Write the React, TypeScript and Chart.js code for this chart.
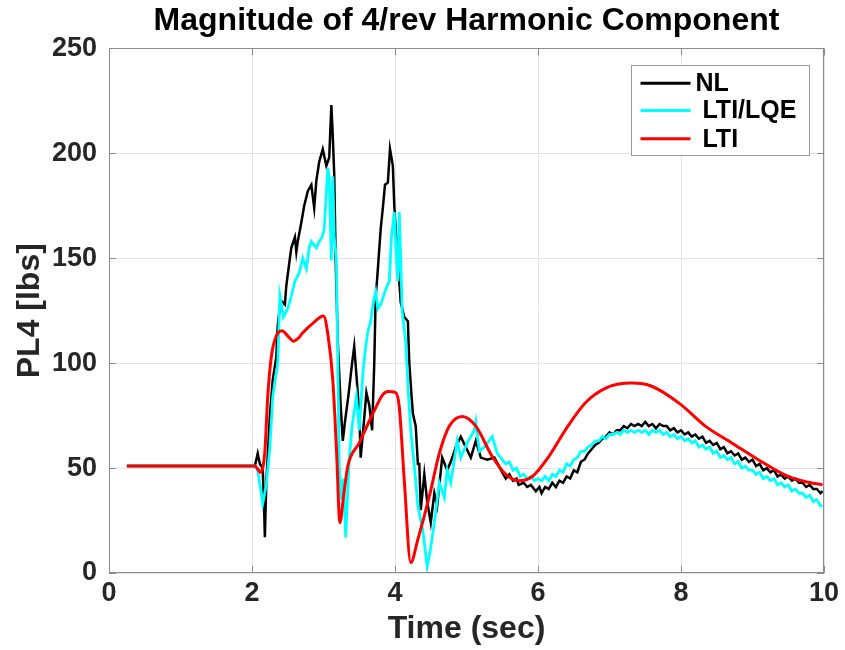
import { useEffect, useRef } from "react";
import { Chart, registerables } from "chart.js";

Chart.register(...registerables);

const chartTitle = "Magnitude of 4/rev Harmonic Component";
const xAxisTitle = "Time (sec)";
const yAxisTitle = "PL4 [lbs]";
const seriesLabels = ["NL", " LTI/LQE", " LTI"];
const seriesColors = ["#000000", "#00ffff", "#ff0000"];
const xTickValues = [0, 2, 4, 6, 8, 10];
const yTickValues = [0, 50, 100, 150, 200, 250];

// [time (sec), PL4 (lbs)]
const nlPoints: number[][] = [
  [0.25, 51], [2.04, 51], [2.08, 57], [2.11, 52], [2.15, 50], [2.17, 30], [2.18, 17], [2.2, 43],
  [2.25, 75], [2.29, 92], [2.34, 103], [2.36, 118], [2.4, 130], [2.46, 128], [2.48, 137], [2.53, 150],
  [2.55, 155], [2.6, 160], [2.62, 153], [2.64, 158], [2.69, 167], [2.73, 175], [2.78, 182], [2.83, 185],
  [2.87, 174], [2.9, 187], [2.94, 196], [2.99, 202], [3.04, 194], [3.08, 198], [3.11, 223], [3.13, 208],
  [3.15, 190], [3.17, 150], [3.2, 110], [3.24, 80], [3.27, 63], [3.3, 72], [3.35, 85], [3.4, 100],
  [3.43, 108], [3.47, 90], [3.5, 76], [3.52, 55], [3.56, 70], [3.6, 86], [3.64, 80], [3.68, 68],
  [3.71, 100], [3.73, 132], [3.75, 140], [3.8, 164], [3.83, 174], [3.86, 185], [3.9, 186], [3.93, 202],
  [3.97, 194], [3.99, 175], [4.04, 148], [4.08, 129], [4.13, 122], [4.18, 120], [4.2, 100], [4.23, 85],
  [4.25, 76], [4.29, 70], [4.32, 52], [4.34, 52], [4.36, 30], [4.41, 47], [4.45, 34], [4.5, 24],
  [4.55, 38], [4.59, 32], [4.66, 55], [4.73, 49], [4.78, 53], [4.85, 60], [4.92, 65], [4.99, 60],
  [5.06, 55], [5.13, 63], [5.2, 55], [5.29, 54], [5.39, 55], [5.5, 48], [5.55, 45], [5.6, 47],
  [5.65, 44], [5.7, 45], [5.73, 42], [5.8, 43], [5.85, 41], [5.9, 42], [5.97, 39], [6.02, 41],
  [6.05, 38], [6.1, 41], [6.15, 40], [6.2, 43], [6.25, 41], [6.3, 44], [6.35, 43], [6.4, 46],
  [6.45, 45], [6.5, 49], [6.55, 48], [6.6, 53], [6.65, 54], [6.7, 57], [6.75, 59], [6.8, 61],
  [6.85, 62], [6.9, 64], [6.95, 65], [7.0, 67], [7.05, 66], [7.1, 68], [7.15, 68], [7.2, 70],
  [7.25, 69], [7.3, 71], [7.35, 70], [7.4, 71], [7.45, 70], [7.5, 72], [7.55, 70], [7.6, 71],
  [7.65, 69], [7.7, 71], [7.75, 70], [7.8, 70], [7.85, 68], [7.9, 69], [7.95, 67], [8.0, 68],
  [8.05, 66], [8.1, 67], [8.15, 65], [8.2, 66], [8.25, 64], [8.3, 65], [8.35, 62], [8.4, 63],
  [8.45, 61], [8.5, 62], [8.55, 59], [8.6, 60], [8.65, 57], [8.7, 58], [8.75, 56], [8.8, 57],
  [8.85, 54], [8.9, 55], [8.95, 53], [9.0, 54], [9.05, 51], [9.1, 52], [9.15, 49], [9.2, 50],
  [9.25, 48], [9.3, 49], [9.35, 46], [9.4, 47], [9.45, 45], [9.5, 46], [9.55, 44], [9.6, 45],
  [9.65, 43], [9.7, 43], [9.75, 41], [9.8, 42], [9.85, 40], [9.9, 40], [9.95, 38], [9.98, 39],
];

const lqePoints: number[][] = [
  [0.25, 51], [2.04, 51], [2.08, 49], [2.12, 40], [2.15, 33], [2.2, 42], [2.25, 60], [2.29, 84],
  [2.36, 100], [2.39, 132], [2.44, 122], [2.5, 126], [2.55, 132], [2.6, 139], [2.66, 143], [2.71, 150],
  [2.76, 145], [2.8, 155], [2.83, 158], [2.9, 155], [2.94, 158], [2.98, 160], [3.01, 164], [3.06, 193],
  [3.08, 188], [3.11, 149], [3.13, 189], [3.15, 160], [3.18, 150], [3.2, 100], [3.22, 50], [3.25, 35],
  [3.28, 45], [3.31, 17], [3.34, 40], [3.36, 55], [3.4, 70], [3.46, 84], [3.5, 68], [3.55, 95],
  [3.58, 105], [3.62, 115], [3.66, 120], [3.7, 130], [3.73, 134], [3.76, 126], [3.8, 128], [3.83, 131],
  [3.88, 136], [3.92, 139], [3.95, 160], [3.99, 172], [4.02, 150], [4.04, 139], [4.06, 172], [4.08, 150],
  [4.1, 125], [4.15, 110], [4.18, 90], [4.22, 68], [4.25, 58], [4.3, 40], [4.32, 32], [4.36, 25],
  [4.39, 20], [4.45, 3], [4.5, 12], [4.55, 24], [4.62, 43], [4.69, 36], [4.73, 49], [4.78, 43],
  [4.87, 63], [4.92, 55], [5.01, 62], [5.11, 68], [5.13, 72], [5.18, 58], [5.25, 60], [5.36, 65],
  [5.43, 57], [5.5, 54], [5.55, 52], [5.6, 53], [5.65, 49], [5.7, 50], [5.75, 46], [5.8, 47],
  [5.85, 45], [5.9, 46], [5.95, 44], [6.0, 45], [6.05, 44], [6.1, 46], [6.15, 44], [6.2, 47],
  [6.25, 46], [6.3, 49], [6.35, 48], [6.4, 52], [6.45, 51], [6.5, 54], [6.55, 55], [6.6, 58],
  [6.65, 58], [6.7, 60], [6.75, 61], [6.8, 63], [6.85, 63], [6.9, 65], [6.95, 64], [7.0, 66],
  [7.05, 66], [7.1, 67], [7.15, 66], [7.2, 68], [7.25, 67], [7.3, 68], [7.35, 67], [7.4, 68],
  [7.45, 67], [7.5, 68], [7.55, 66], [7.6, 68], [7.65, 67], [7.7, 68], [7.75, 66], [7.8, 67],
  [7.85, 65], [7.9, 66], [7.95, 64], [8.0, 65], [8.05, 63], [8.1, 64], [8.15, 62], [8.2, 63],
  [8.25, 60], [8.3, 61], [8.35, 59], [8.4, 60], [8.45, 57], [8.5, 58], [8.55, 55], [8.6, 56],
  [8.65, 54], [8.7, 55], [8.75, 52], [8.8, 53], [8.85, 50], [8.9, 51], [8.95, 49], [9.0, 49],
  [9.05, 47], [9.1, 48], [9.15, 45], [9.2, 46], [9.25, 44], [9.3, 45], [9.35, 42], [9.4, 43],
  [9.45, 41], [9.5, 42], [9.55, 39], [9.6, 40], [9.65, 38], [9.7, 38], [9.75, 36], [9.8, 37],
  [9.85, 34], [9.9, 35], [9.95, 32], [9.98, 32],
];

const ltiPoints: number[][] = [
  [0.25, 51], [2.04, 51], [2.12, 48], [2.18, 58], [2.22, 84], [2.27, 103], [2.34, 113], [2.42, 115.5],
  [2.5, 113], [2.58, 110.5], [2.65, 112], [2.71, 114.5], [2.85, 119], [3.0, 122.5], [3.06, 114],
  [3.13, 92], [3.18, 60], [3.23, 24], [3.28, 36.5], [3.34, 51], [3.5, 62], [3.69, 76], [3.83, 85],
  [3.9, 86.5], [4.01, 86], [4.06, 79], [4.13, 44], [4.22, 5], [4.32, 16], [4.48, 36.5], [4.62, 57],
  [4.76, 70], [4.94, 74.6], [5.13, 70], [5.36, 55.5], [5.55, 47], [5.73, 44], [5.92, 46], [6.15, 55.5],
  [6.38, 68], [6.66, 81], [6.94, 88], [7.31, 90.5], [7.59, 89], [7.99, 80.5], [8.34, 70], [8.71, 62],
  [9.08, 54], [9.45, 46.8], [9.73, 43.6], [9.98, 42],
];

const FONT = "'Liberation Sans', Arial, Helvetica, sans-serif";
const TEXT = "#262626";

const framePlugin = {
  id: "frame",
  afterDatasetsDraw(chart: any) {
    const { ctx, chartArea: a, scales } = chart;
    ctx.save();
    ctx.strokeStyle = "#8c8c8c";
    ctx.lineWidth = 1;
    ctx.strokeRect(Math.round(a.left) + 0.5, Math.round(a.top) + 0.5, Math.round(a.right - a.left) - 1, Math.round(a.bottom - a.top) - 1);
    const tl = 7;
    ctx.beginPath();
    for (const v of xTickValues) {
      const px = Math.round(scales.x.getPixelForValue(v)) + 0.5;
      ctx.moveTo(px, a.bottom);
      ctx.lineTo(px, a.bottom - tl);
      ctx.moveTo(px, a.top);
      ctx.lineTo(px, a.top + tl);
    }
    for (const v of yTickValues) {
      const py = Math.round(scales.y.getPixelForValue(v)) + 0.5;
      ctx.moveTo(a.left, py);
      ctx.lineTo(a.left + tl, py);
      ctx.moveTo(a.right, py);
      ctx.lineTo(a.right - tl, py);
    }
    ctx.stroke();

    // legend
    const w = 178;
    const h = 90;
    const bx = Math.round(a.right - 15 - w) + 0.5;
    const by = Math.round(a.top + 17) + 0.5;
    ctx.fillStyle = "#ffffff";
    ctx.fillRect(bx, by, w, h);
    ctx.strokeStyle = "#9a9a9a";
    ctx.strokeRect(bx, by, w, h);
    const rows = [17.7, 45, 73.3];
    ctx.font = `bold 25px ${FONT}`;
    ctx.textBaseline = "middle";
    ctx.textAlign = "left";
    chart.data.datasets.forEach((ds: any, i: number) => {
      const ry = by + rows[i];
      ctx.strokeStyle = ds.borderColor;
      ctx.lineWidth = 3;
      ctx.beginPath();
      ctx.moveTo(bx + 9, ry);
      ctx.lineTo(bx + 59, ry);
      ctx.stroke();
      ctx.fillStyle = "#000000";
      ctx.fillText(ds.label, bx + 64, ry + 1);
    });
    ctx.restore();
  },
};

export default function App() {
  const ref = useRef<HTMLCanvasElement | null>(null);
  useEffect(() => {
    if (!ref.current) return;
    const toXY = (pts: number[][]) => pts.map((p) => ({ x: p[0], y: p[1] }));
    const chart = new Chart(ref.current, {
      type: "line",
      data: {
        datasets: [
          { label: seriesLabels[0], data: toXY(nlPoints), borderColor: seriesColors[0], borderWidth: 2.5, pointRadius: 0, order: 3, tension: 0 },
          { label: seriesLabels[1], data: toXY(lqePoints), borderColor: seriesColors[1], borderWidth: 2.8, pointRadius: 0, order: 2, tension: 0 },
          { label: seriesLabels[2], data: toXY(ltiPoints), borderColor: seriesColors[2], borderWidth: 3, pointRadius: 0, order: 1, cubicInterpolationMode: "monotone" },
        ] as any,
      },
      options: {
        animation: false,
        responsive: false,
        layout: { padding: { left: 0, right: 21, top: 0, bottom: 0 } },
        plugins: {
          legend: { display: false },
          tooltip: { enabled: false },
          title: {
            display: true,
            text: chartTitle,
            color: "#000000",
            fullSize: false,
            font: { family: FONT, size: 32, weight: "bold" },
            padding: { top: 2, bottom: 8 },
          },
        },
        scales: {
          x: {
            type: "linear",
            min: 0,
            max: 10,
            afterFit: (s: any) => { s.height = 77; },
            afterBuildTicks: (s: any) => { s.ticks = xTickValues.map((v) => ({ value: v })); },
            border: { display: false },
            grid: { color: "#e3e3e3", drawTicks: false, lineWidth: 1 },
            ticks: { color: TEXT, padding: 4, font: { family: FONT, size: 27, weight: "bold" }, maxRotation: 0 },
            title: { display: true, text: xAxisTitle, color: TEXT, font: { family: FONT, size: 32, weight: "bold" }, padding: { top: 0, bottom: 2 } },
          },
          y: {
            type: "linear",
            min: 0,
            max: 250,
            afterFit: (s: any) => { s.width = 109; },
            afterBuildTicks: (s: any) => { s.ticks = yTickValues.map((v) => ({ value: v })); },
            border: { display: false },
            grid: { color: "#e3e3e3", drawTicks: false, lineWidth: 1 },
            ticks: { color: TEXT, padding: 12, font: { family: FONT, size: 27, weight: "bold" } },
            title: { display: true, text: yAxisTitle, color: TEXT, font: { family: FONT, size: 32, weight: "bold" }, padding: { top: 11, bottom: 0 } },
          },
        },
      } as any,
      plugins: [framePlugin],
    });
    return () => chart.destroy();
  }, []);
  return (
    <div style={{ position: "fixed", left: 0, top: 0, width: 845, height: 650, background: "#fff" }}>
      <canvas ref={ref} width={845} height={650} style={{ display: "block" }} />
    </div>
  );
}
